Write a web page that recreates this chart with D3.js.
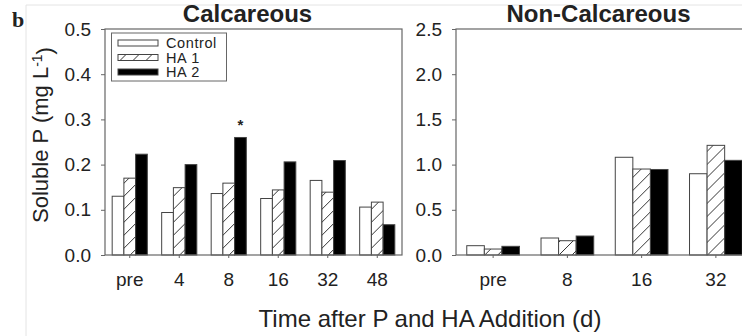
<!DOCTYPE html>
<html>
<head>
	<meta charset="utf-8">
	<script src="https://cdn.jsdelivr.net/npm/d3@7"></script>
	<style>
		body { margin: 0; background: #fff; }
		text { font-family: "Liberation Sans", Arial, sans-serif; fill: #222; }
	</style>
</head>
<body>
	<div id="chart"></div>

	<script>
		// data
		var series = ["Control", "HA 1", "HA 2"];

		var calcCats = ["pre", "4", "8", "16", "32", "48"];
		var calcControl = [0.130, 0.094, 0.136, 0.125, 0.165, 0.106];
		var calcHA1 = [0.170, 0.149, 0.159, 0.144, 0.139, 0.117];
		var calcHA2 = [0.223, 0.200, 0.260, 0.206, 0.209, 0.067];
		var calcTicks = [0, 0.1, 0.2, 0.3, 0.4, 0.5];

		var nonCats = ["pre", "8", "16", "32"];
		var nonControl = [0.103, 0.188, 1.081, 0.899];
		var nonHA1 = [0.066, 0.158, 0.951, 1.213];
		var nonHA2 = [0.096, 0.210, 0.946, 1.047];
		var nonTicks = [0, 0.5, 1.0, 1.5, 2.0, 2.5];

		var width = 742, height = 336;
		var top_y = 29, zero_y = 255;

		var svg = d3.select("#chart").append("svg")
			.attr("width", width)
			.attr("height", height);

		svg.append("rect")
			.attr("width", width).attr("height", height)
			.attr("fill", "#fff");

		// faint page edge from the scan
		svg.append("path")
			.attr("d", "M26,336V5H742")
			.attr("fill", "none")
			.attr("stroke", "#e4e4e4");

		var defs = svg.append("defs");
		defs.append("pattern")
			.attr("id", "hatch")
			.attr("patternUnits", "userSpaceOnUse")
			.attr("width", 13).attr("height", 13)
			.call(function(p) {
				p.append("rect").attr("width", 13).attr("height", 13).attr("fill", "#fff");
				p.append("path")
					.attr("d", "M-2,2 l4,-4 M0,13 l13,-13 M11,15 l4,-4")
					.attr("stroke", "#333")
					.attr("stroke-width", 1);
			});

		var fills = { "Control": "#fff", "HA 1": "url(#hatch)", "HA 2": "#000" };

		function drawPanel(cats, vals, ticks, x0, x1, title, fmt) {
			var g = svg.append("g");

			var xb = d3.scaleBand()
				.domain(cats)
				.range([x0, x1])
				.paddingInner(0.29)
				.paddingOuter(0.145);

			var xs = d3.scaleBand()
				.domain(series)
				.range([0, xb.bandwidth()]);

			var y = d3.scaleLinear()
				.domain([0, ticks[ticks.length - 1]])
				.range([zero_y, top_y]);

			// bars
			var rows = cats.map(function(c, i) {
				return series.map(function(s, j) { return { cat: c, s: s, v: vals[j][i] }; });
			});

			g.selectAll("g.grp")
				.data(rows)
				.enter().append("g")
				.attr("transform", function(d) { return "translate(" + xb(d[0].cat) + ",0)"; })
				.selectAll("rect")
				.data(function(d) { return d; })
				.enter().append("rect")
				.attr("x", function(d) { return xs(d.s); })
				.attr("y", function(d) { return y(d.v); })
				.attr("width", xs.bandwidth())
				.attr("height", function(d) { return zero_y - y(d.v); })
				.attr("fill", function(d) { return fills[d.s]; })
				.attr("stroke", "#444")
				.attr("stroke-width", 1);

			// frame
			g.append("rect")
				.attr("x", x0).attr("y", top_y)
				.attr("width", x1 - x0).attr("height", zero_y - top_y)
				.attr("fill", "none")
				.attr("stroke", "#666")
				.attr("stroke-width", 1.2);

			var yAxis = g.append("g")
				.attr("transform", "translate(" + x0 + ",0)")
				.call(d3.axisLeft(y).tickValues(ticks).tickSize(4).tickPadding(10).tickFormat(d3.format(fmt)));
			yAxis.select(".domain").remove();
			yAxis.selectAll("line").attr("stroke", "#666");
			yAxis.selectAll("text")
				.style("font-size", "19px")
				.attr("fill", "#222");

			var xAxis = g.append("g")
				.attr("transform", "translate(0," + zero_y + ")")
				.call(d3.axisBottom(xb).tickSize(3).tickPadding(15));
			xAxis.select(".domain").remove();
			xAxis.selectAll("line").attr("stroke", "#666");
			xAxis.selectAll("text")
				.style("font-size", "19px")
				.attr("fill", "#222");

			g.append("text")
				.attr("x", (x0 + x1) / 2 - 6)
				.attr("y", 22)
				.attr("text-anchor", "middle")
				.style("font-size", "24px")
				.style("font-weight", "bold")
				.text(title);

			return { x: xb, xs: xs, y: y };
		}

		var left = drawPanel(calcCats, [calcControl, calcHA1, calcHA2], calcTicks, 105, 402, "Calcareous", ".1f");
		drawPanel(nonCats, [nonControl, nonHA1, nonHA2], nonTicks, 456, 753, "Non-Calcareous", ".1f");

		// significance mark over HA 2 at day 8
		svg.append("text")
			.attr("x", left.x("8") + left.xs("HA 2") + left.xs.bandwidth() / 2)
			.attr("y", left.y(calcHA2[2]) - 7)
			.attr("text-anchor", "middle")
			.style("font-size", "15px")
			.style("font-weight", "bold")
			.text("*");

		// legend
		var leg = svg.append("g");
		leg.append("rect")
			.attr("x", 111.5).attr("y", 33)
			.attr("width", 115).attr("height", 48)
			.attr("fill", "#fff")
			.attr("stroke", "#666");

		leg.selectAll("g.item")
			.data(series)
			.enter().append("g")
			.attr("transform", function(d, i) { return "translate(118," + (48 + i * 14.5) + ")"; })
			.each(function(d) {
				var it = d3.select(this);
				it.append("rect")
					.attr("x", 0).attr("y", -8)
					.attr("width", 40).attr("height", 6)
					.attr("fill", fills[d])
					.attr("stroke", "#444");
				it.append("text")
					.attr("x", 48).attr("y", 0)
					.style("font-size", "14.5px")
					.style("letter-spacing", "0.6px")
					.text(d);
			});

		// axis titles
		svg.append("text")
			.attr("transform", "translate(48,135) rotate(-90)")
			.attr("text-anchor", "middle")
			.style("font-size", "22px")
			.call(function(t) {
				t.append("tspan").text("Soluble P (mg L");
				t.append("tspan").attr("dy", "-0.45em").style("font-size", "14px").text("-1");
				t.append("tspan").attr("dy", "0.45em").text(")");
			});

		svg.append("text")
			.attr("x", 430)
			.attr("y", 327)
			.attr("text-anchor", "middle")
			.style("font-size", "24px")
			.text("Time after P and HA Addition (d)");

		// panel letter
		svg.append("text")
			.attr("x", 12)
			.attr("y", 27)
			.style("font-family", "'Liberation Serif', 'Times New Roman', serif")
			.style("font-size", "22px")
			.style("font-weight", "bold")
			.attr("fill", "#000")
			.text("b");
	</script>
</body>
</html>
